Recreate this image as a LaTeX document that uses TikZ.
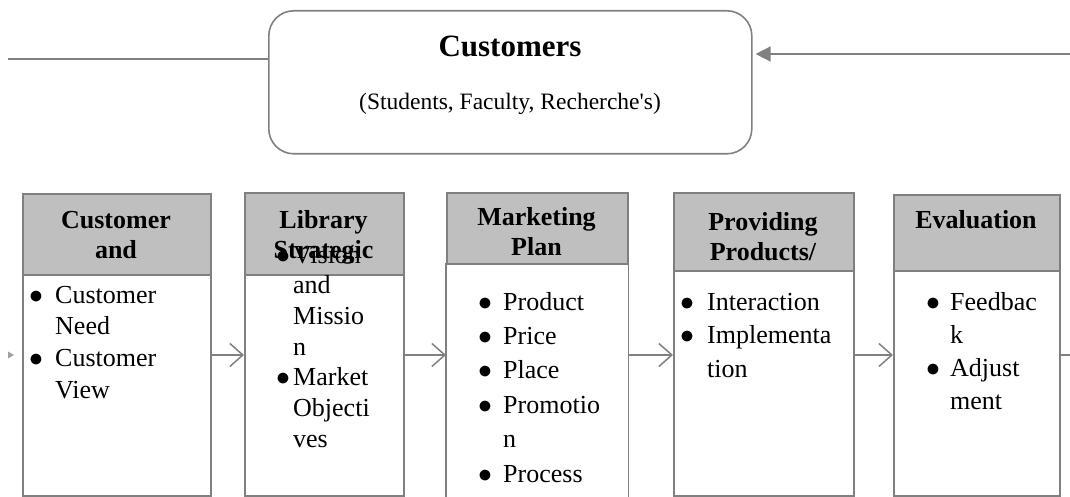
\documentclass[tikz,border=0pt]{standalone}
\usepackage{fontspec}
\setmainfont{Liberation Serif}
\usetikzlibrary{arrows.meta}
\definecolor{ln}{HTML}{808080}
\definecolor{hd}{HTML}{BFBFBF}
\newcommand\bl[1]{\makebox[#1][l]{\hspace*{-2pt}\scalebox{1.12}{$\bullet$}}}
\newcommand\ind[1]{\hspace*{#1}}
\begin{document}
\begin{tikzpicture}[x=1pt,y=-1pt,
  box/.style={draw=ln, line width=1.6pt, rectangle, inner sep=0pt, anchor=north west},
  hdr/.style={box, fill=hd},
  body/.style={box, fill=white},
  htxt/.style={font=\bfseries\fontsize{26}{30}\selectfont, anchor=base, inner sep=0pt},
  ltxt/.style={anchor=base west, inner sep=0pt},
  flow/.style={draw=ln, line width=1.5pt, -{Straight Barb[length=13pt,width=23pt,line width=1.5pt]}},
  plain/.style={draw=ln, line width=1.6pt}
]
\useasboundingbox (0,0) rectangle (1070,497);

% Customers box
\node[box, minimum width=483, minimum height=143, rounded corners=25pt] (cust) at (268,10) {};
\node[inner sep=0pt, anchor=base, font=\bfseries\fontsize{31}{36}\selectfont] (custt) at (510,57) {Customers};
\node[inner sep=0pt, anchor=base, font=\fontsize{23.5}{28}\selectfont] (custs) at (510,110) {(Students, Faculty, Recherche\textquotesingle s)};

\coordinate (ls) at (8,59);
\coordinate (rs) at (1070,54);
\draw[plain] (ls) -- (cust.west |- ls);
\draw[plain, shorten >=3pt, -{Triangle[length=15pt,width=15pt]}] (rs) -- (cust.east |- rs);

% Boxes
\node[hdr, minimum width=188, minimum height=81] (h1) at (22,193) {};
\node[body, minimum width=188, minimum height=221] (b1) at (22,274) {};
\node[hdr, minimum width=159, minimum height=82] (h2) at (244,192) {};
\node[body, minimum width=159, minimum height=221] (b2) at (244,274) {};
\node[hdr, minimum width=181, minimum height=72] (h3) at (446,192) {};
\node[box, draw=none, fill=white, minimum width=181, minimum height=233] (b3) at (446,264) {};
\draw[plain] (b3.south west) -- (b3.north west) -- (b3.north east) -- (b3.south east);
\node[hdr, minimum width=180, minimum height=78] (h4) at (673,192) {};
\node[body, minimum width=180, minimum height=225] (b4) at (673,270) {};
\node[hdr, minimum width=166, minimum height=76] (h5) at (893,194) {};
\node[body, minimum width=166, minimum height=225] (b5) at (893,270) {};

% Header texts
\node[htxt] (t1) at (116,228) {\begin{tabular}[t]{@{}c@{}}Customer\\and\end{tabular}};
\node[htxt] (t3) at (536.5,225) {\begin{tabular}[t]{@{}c@{}}Marketing\\Plan\end{tabular}};
\node[htxt] (t4) at (763,230) {\begin{tabular}[t]{@{}c@{}}Providing\\Products/\end{tabular}};
\node[htxt] (t5) at (976,228) {Evaluation};

% Body texts
\node[ltxt, font=\fontsize{26}{31.7}\selectfont] (l1) at (31,303) {\begin{tabular}[t]{@{}l@{}}\bl{24pt}Customer\\\ind{24pt}Need\\\bl{24pt}Customer\\\ind{24pt}View\end{tabular}};
\node[ltxt, font=\fontsize{26}{30.7}\selectfont] (l2) at (278,263) {\begin{tabular}[t]{@{}l@{}}\bl{15pt}Vision\\\ind{15pt}and\\\ind{15pt}Missio\\\ind{15pt}n\\\bl{15pt}Market\\\ind{15pt}Objecti\\\ind{15pt}ves\end{tabular}};
\node[htxt] (t2) at (323.5,228) {\begin{tabular}[t]{@{}c@{}}Library\\Strategic\end{tabular}};
\node[ltxt, font=\fontsize{26}{34.4}\selectfont] (l3) at (480,310) {\begin{tabular}[t]{@{}l@{}}\bl{23pt}Product\\\bl{23pt}Price\\\bl{23pt}Place\\\bl{23pt}Promotio\\\ind{23pt}n\\\bl{23pt}Process\end{tabular}};
\node[ltxt, font=\fontsize{26}{33.5}\selectfont] (l4) at (682,310) {\begin{tabular}[t]{@{}l@{}}\bl{25pt}Interaction\\\bl{25pt}Implementa\\\ind{25pt}tion\end{tabular}};
\node[ltxt, font=\fontsize{26}{33.3}\selectfont] (l5) at (928,310) {\begin{tabular}[t]{@{}l@{}}\bl{22pt}Feedbac\\\ind{22pt}k\\\bl{22pt}Adjust\\\ind{22pt}ment\end{tabular}};

% Connectors between boxes
\coordinate (ay) at (0,355);
\coordinate (rend) at (1070,355);
\draw[flow] (b1.east |- ay) -- (b2.west |- ay);
\draw[flow] (b2.east |- ay) -- (b3.west |- ay);
\draw[flow] (b3.east |- ay) -- (b4.west |- ay);
\draw[flow] (b4.east |- ay) -- (b5.west |- ay);
\draw[plain] (b5.east |- ay) -- (rend);
\fill[ln!75] (8,351.5) -- (14,355) -- (8,358.5) -- cycle;
\end{tikzpicture}
\end{document}
